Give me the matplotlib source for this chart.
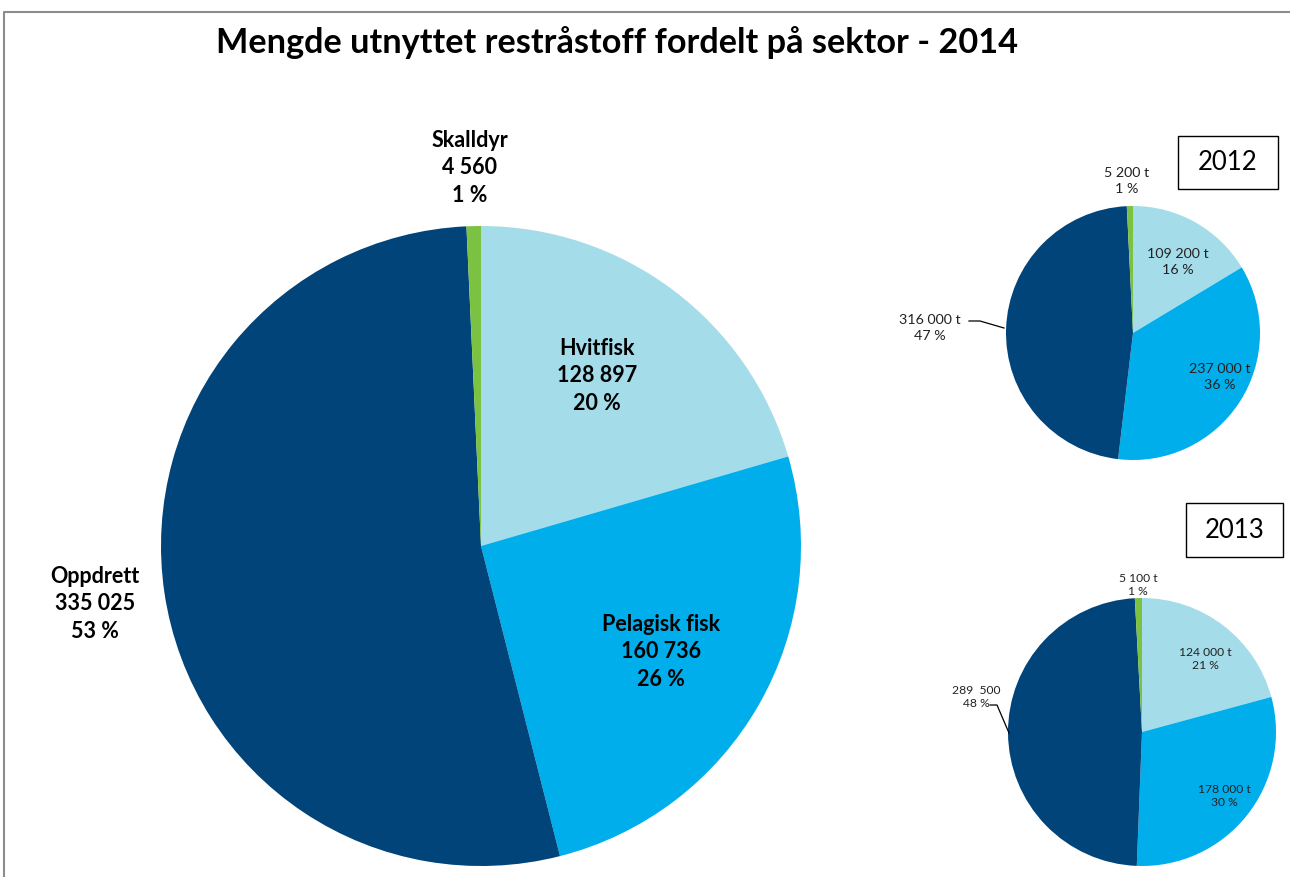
import matplotlib
matplotlib.use("Agg")
import matplotlib.pyplot as plt
from matplotlib.patches import Rectangle

plt.rcParams['font.family'] = ['Lato', 'DejaVu Sans']

# Sector order (clockwise from 12 o'clock)
sectors = ["Hvitfisk", "Pelagisk fisk", "Oppdrett", "Skalldyr"]
colors = ["#A4DDE9", "#00AEEC", "#00447A", "#7CC242"]

values_2014 = [128897, 160736, 335025, 4560]
pct_2014 = [20, 26, 53, 1]

values_2012 = [109200, 237000, 316000, 5200]
pct_2012 = [16, 36, 47, 1]
labels_2012 = ["109 200 t", "237 000 t", "316 000 t", "5 200 t"]

values_2013 = [124000, 178000, 289500, 5100]
pct_2013 = [21, 30, 48, 1]
labels_2013 = ["124 000 t", "178 000 t", "289  500", "5 100 t"]

title = "Mengde utnyttet restråstoff fordelt på sektor - 2014"

W, H = 1290, 877
fig = plt.figure(figsize=(W / 100, H / 100), dpi=100)
ax = fig.add_axes([0, 0, 1, 1])


def Y(y):
    # pixel row (from top) -> data y
    return H - y


def draw_pie(values, center, radius):
    ax.pie(values, colors=colors, startangle=90, counterclock=False,
           center=(center[0], Y(center[1])), radius=radius, frame=True,
           wedgeprops=dict(linewidth=0))


# Main 2014 pie
draw_pie(values_2014, (481, 546), 320)
main_pos = [(597, 376), (661, 652), (95, 604), (470, 168)]
for name, v, p, (x, y) in zip(sectors, values_2014, pct_2014, main_pos):
    txt = f"{name}\n{v:,}".replace(",", " ") + f"\n{p} %"
    ax.text(x, Y(y), txt, ha="center", va="center", fontsize=15.5,
            fontweight="bold", color="black", linespacing=1.38)

# 2012 pie
draw_pie(values_2012, (1133, 333), 127)
pos_2012 = [(1178, 262), (1220, 377), (930, 328), (1127, 181)]
for lab, p, (x, y) in zip(labels_2012, pct_2012, pos_2012):
    ax.text(x, Y(y), f"{lab}\n{p} %", ha="center", va="center",
            fontsize=10.3, color="#222222", linespacing=1.35)
ax.plot([969, 980, 1004], [Y(321), Y(321), Y(328)], color="black", lw=0.9)

# 2013 pie
draw_pie(values_2013, (1142, 732), 134)
pos_2013 = [(1205, 659), (1224, 796), (976, 697), (1138, 585)]
for lab, p, (x, y) in zip(labels_2013, pct_2013, pos_2013):
    ax.text(x, Y(y), f"{lab}\n{p} %", ha="center", va="center",
            fontsize=8.7, color="#222222", linespacing=1.3)
ax.plot([990, 997, 1009], [Y(705), Y(705), Y(733)], color="black", lw=0.9)

# Year boxes
for (x0, y0, x1, y1, yr) in [(1178, 136, 1278, 189, "2012"),
                             (1186, 503, 1283, 557, "2013")]:
    ax.add_patch(Rectangle((x0, Y(y1)), x1 - x0, y1 - y0, fill=False,
                           edgecolor="black", lw=1.0))
    ax.text((x0 + x1) / 2, Y((y0 + y1) / 2), yr, ha="center", va="center",
            fontsize=18.5, color="black")

# Title
ax.text(617, Y(43), title, ha="center", va="center", fontsize=24.7,
        fontweight="bold", color="black")

# Chart frame
ax.plot([4, 4, W], [0, Y(12), Y(12)], color="#8C8C8C", lw=1.5)

ax.set_xlim(0, W)
ax.set_ylim(0, H)
ax.set_aspect("auto")
ax.axis("off")

fig.savefig("out.png", dpi=100)
